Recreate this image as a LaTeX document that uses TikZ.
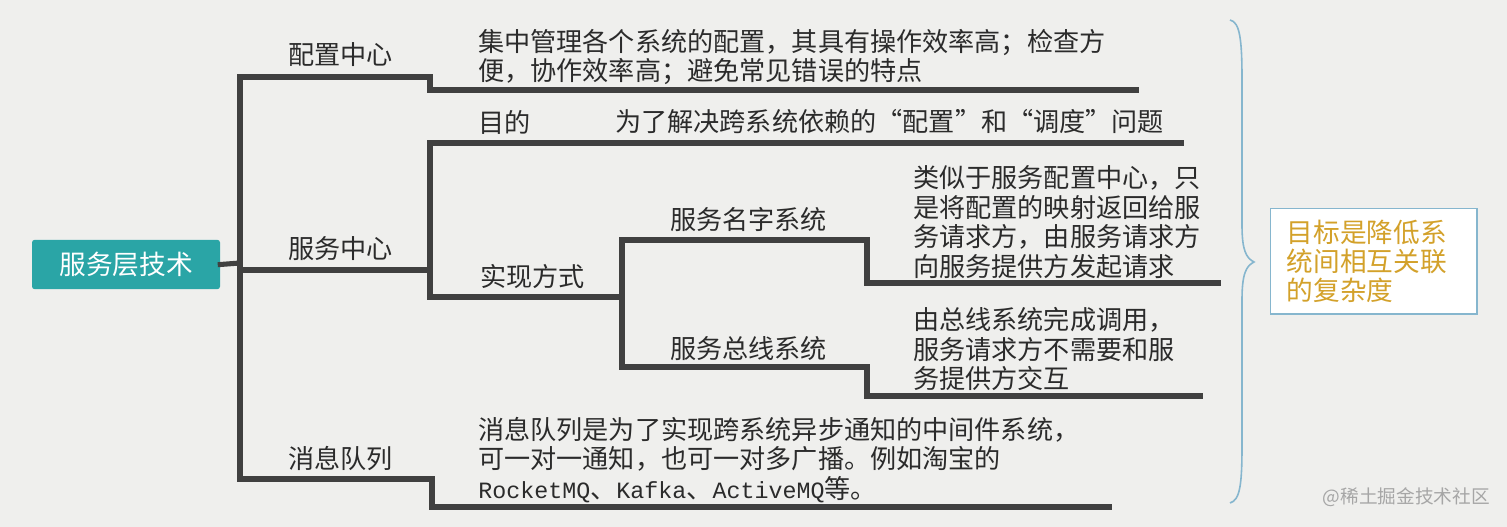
\documentclass[tikz,border=0pt]{standalone}
\usepackage{fontspec}
\setmainfont{Noto Sans CJK SC}
\newfontfamily\latinmono{Liberation Mono}

\definecolor{fond}{HTML}{EFEFED}
\definecolor{trait}{HTML}{404040}
\definecolor{texte}{HTML}{2B2B2B}
\definecolor{sarcelle}{HTML}{2AA5A6}
\definecolor{bleuclair}{HTML}{86B6CE}
\definecolor{or}{HTML}{D3A12A}

\tikzset{
  branche/.style={draw=trait, line width=3.8pt, line cap=rect},
  etiquette/.style={anchor=west, inner sep=0pt, text=texte,
    font=\fontsize{19.6}{22.2}\selectfont},
  texteb/.style={etiquette, align=left},
  racine/.style={fill=sarcelle, rounded corners=2pt, text=white,
    minimum width=141pt, minimum height=37pt,
    font=\fontsize{20}{24}\selectfont},
  objectif/.style={draw=bleuclair, line width=1pt, fill=white,
    minimum width=155pt, minimum height=79pt, text width=130pt,
    align=left, text=or, font=\fontsize{20}{22}\selectfont}
}

\begin{document}
\begin{tikzpicture}[x=0.75pt,y=-0.75pt]

% Fond
\fill[fond] (0,0) rectangle (1507,527);

% Racine
\node[racine] (racine) at (126,264.5) {服务层技术};

% Tronc
\coordinate (jhaut) at (240,77);
\coordinate (jracine) at (240,263);
\coordinate (jcentre) at (240,270);
\coordinate (jbas) at (240,479);
\draw[branche] (racine.east) -- (jracine);
\draw[branche] (jhaut) -- (jbas);

% Configuration
\node[etiquette] (config) at (288,55) {配置中心};
\node[texteb] (configtxt) at (478,57)
  {集中管理各个系统的配置，其具有操作效率高；检查方\\便，协作效率高；避免常见错误的特点};
\coordinate (configfin) at (1136,90);
\draw[branche] (jhaut) -- ++(190,0) |- (configfin);

% Service
\node[etiquette] (service) at (288,249) {服务中心};
\coordinate (jservice) at (430,270);
\coordinate (jbut) at (430,143);
\coordinate (jmoyen) at (430,297);
\draw[branche] (jcentre) -- (jservice);
\draw[branche] (jbut) -- (jmoyen);

\node[etiquette] (but) at (478,122) {目的};
\node[etiquette] (buttxt) at (615,122) {为了解决跨系统依赖的“配置”和“调度”问题};
\coordinate (butfin) at (1181,143);
\draw[branche] (jbut) -- (butfin);

\node[etiquette] (moyen) at (480,277) {实现方式};
\coordinate (jnom) at (622,240);
\coordinate (jbus) at (622,367);
\draw[branche] (jmoyen) -- (622,297);
\draw[branche] (jnom) -- (jbus);

\node[etiquette] (nom) at (670,219) {服务名字系统};
\node[texteb] (nomtxt) at (913,222)
  {类似于服务配置中心，只\\是将配置的映射返回给服\\务请求方，由服务请求方\\向服务提供方发起请求};
\coordinate (nomfin) at (1218,283);
\draw[branche] (jnom) -- ++(245,0) |- (nomfin);

\node[etiquette] (bus) at (670,349) {服务总线系统};
\node[texteb] (bustxt) at (913,349)
  {由总线系统完成调用，\\服务请求方不需要和服\\务提供方交互};
\coordinate (busfin) at (1200,396);
\draw[branche] (jbus) -- ++(245,0) |- (busfin);

% Messages
\node[etiquette] (file) at (288,459) {消息队列};
\node[texteb] (filetxt) at (478,460)
  {消息队列是为了实现跨系统异步通知的中间件系统，\\可一对一通知，也可一对多广播。例如淘宝的\\
   {\latinmono\fontsize{17.5}{22}\selectfont RocketMQ}、{\latinmono\fontsize{17.5}{22}\selectfont Kafka}、{\latinmono\fontsize{17.5}{22}\selectfont ActiveMQ}等。};
\coordinate (filefin) at (1109,507);
\draw[branche] (jbas) -- ++(192,0) |- (filefin);

% Accolade
\draw[bleuclair, line width=1.2pt] (1230,20)
  .. controls (1240,22) and (1242,40) .. (1242,80) -- (1242,225)
  .. controls (1242,250) and (1246,258) .. (1254,262)
  .. controls (1246,266) and (1242,274) .. (1242,300) -- (1242,445)
  .. controls (1242,485) and (1240,500) .. (1230,503);

% Objectif
\node[objectif] (but2) at (1373.5,261.5) {目标是降低系\\统间相互关联\\的复杂度};

% Filigrane
\node[anchor=east, inner sep=0pt, text=black!35, font=\fontsize{14}{16}\selectfont]
  (filigrane) at (1490,497) {@稀土掘金技术社区};

\end{tikzpicture}
\end{document}
